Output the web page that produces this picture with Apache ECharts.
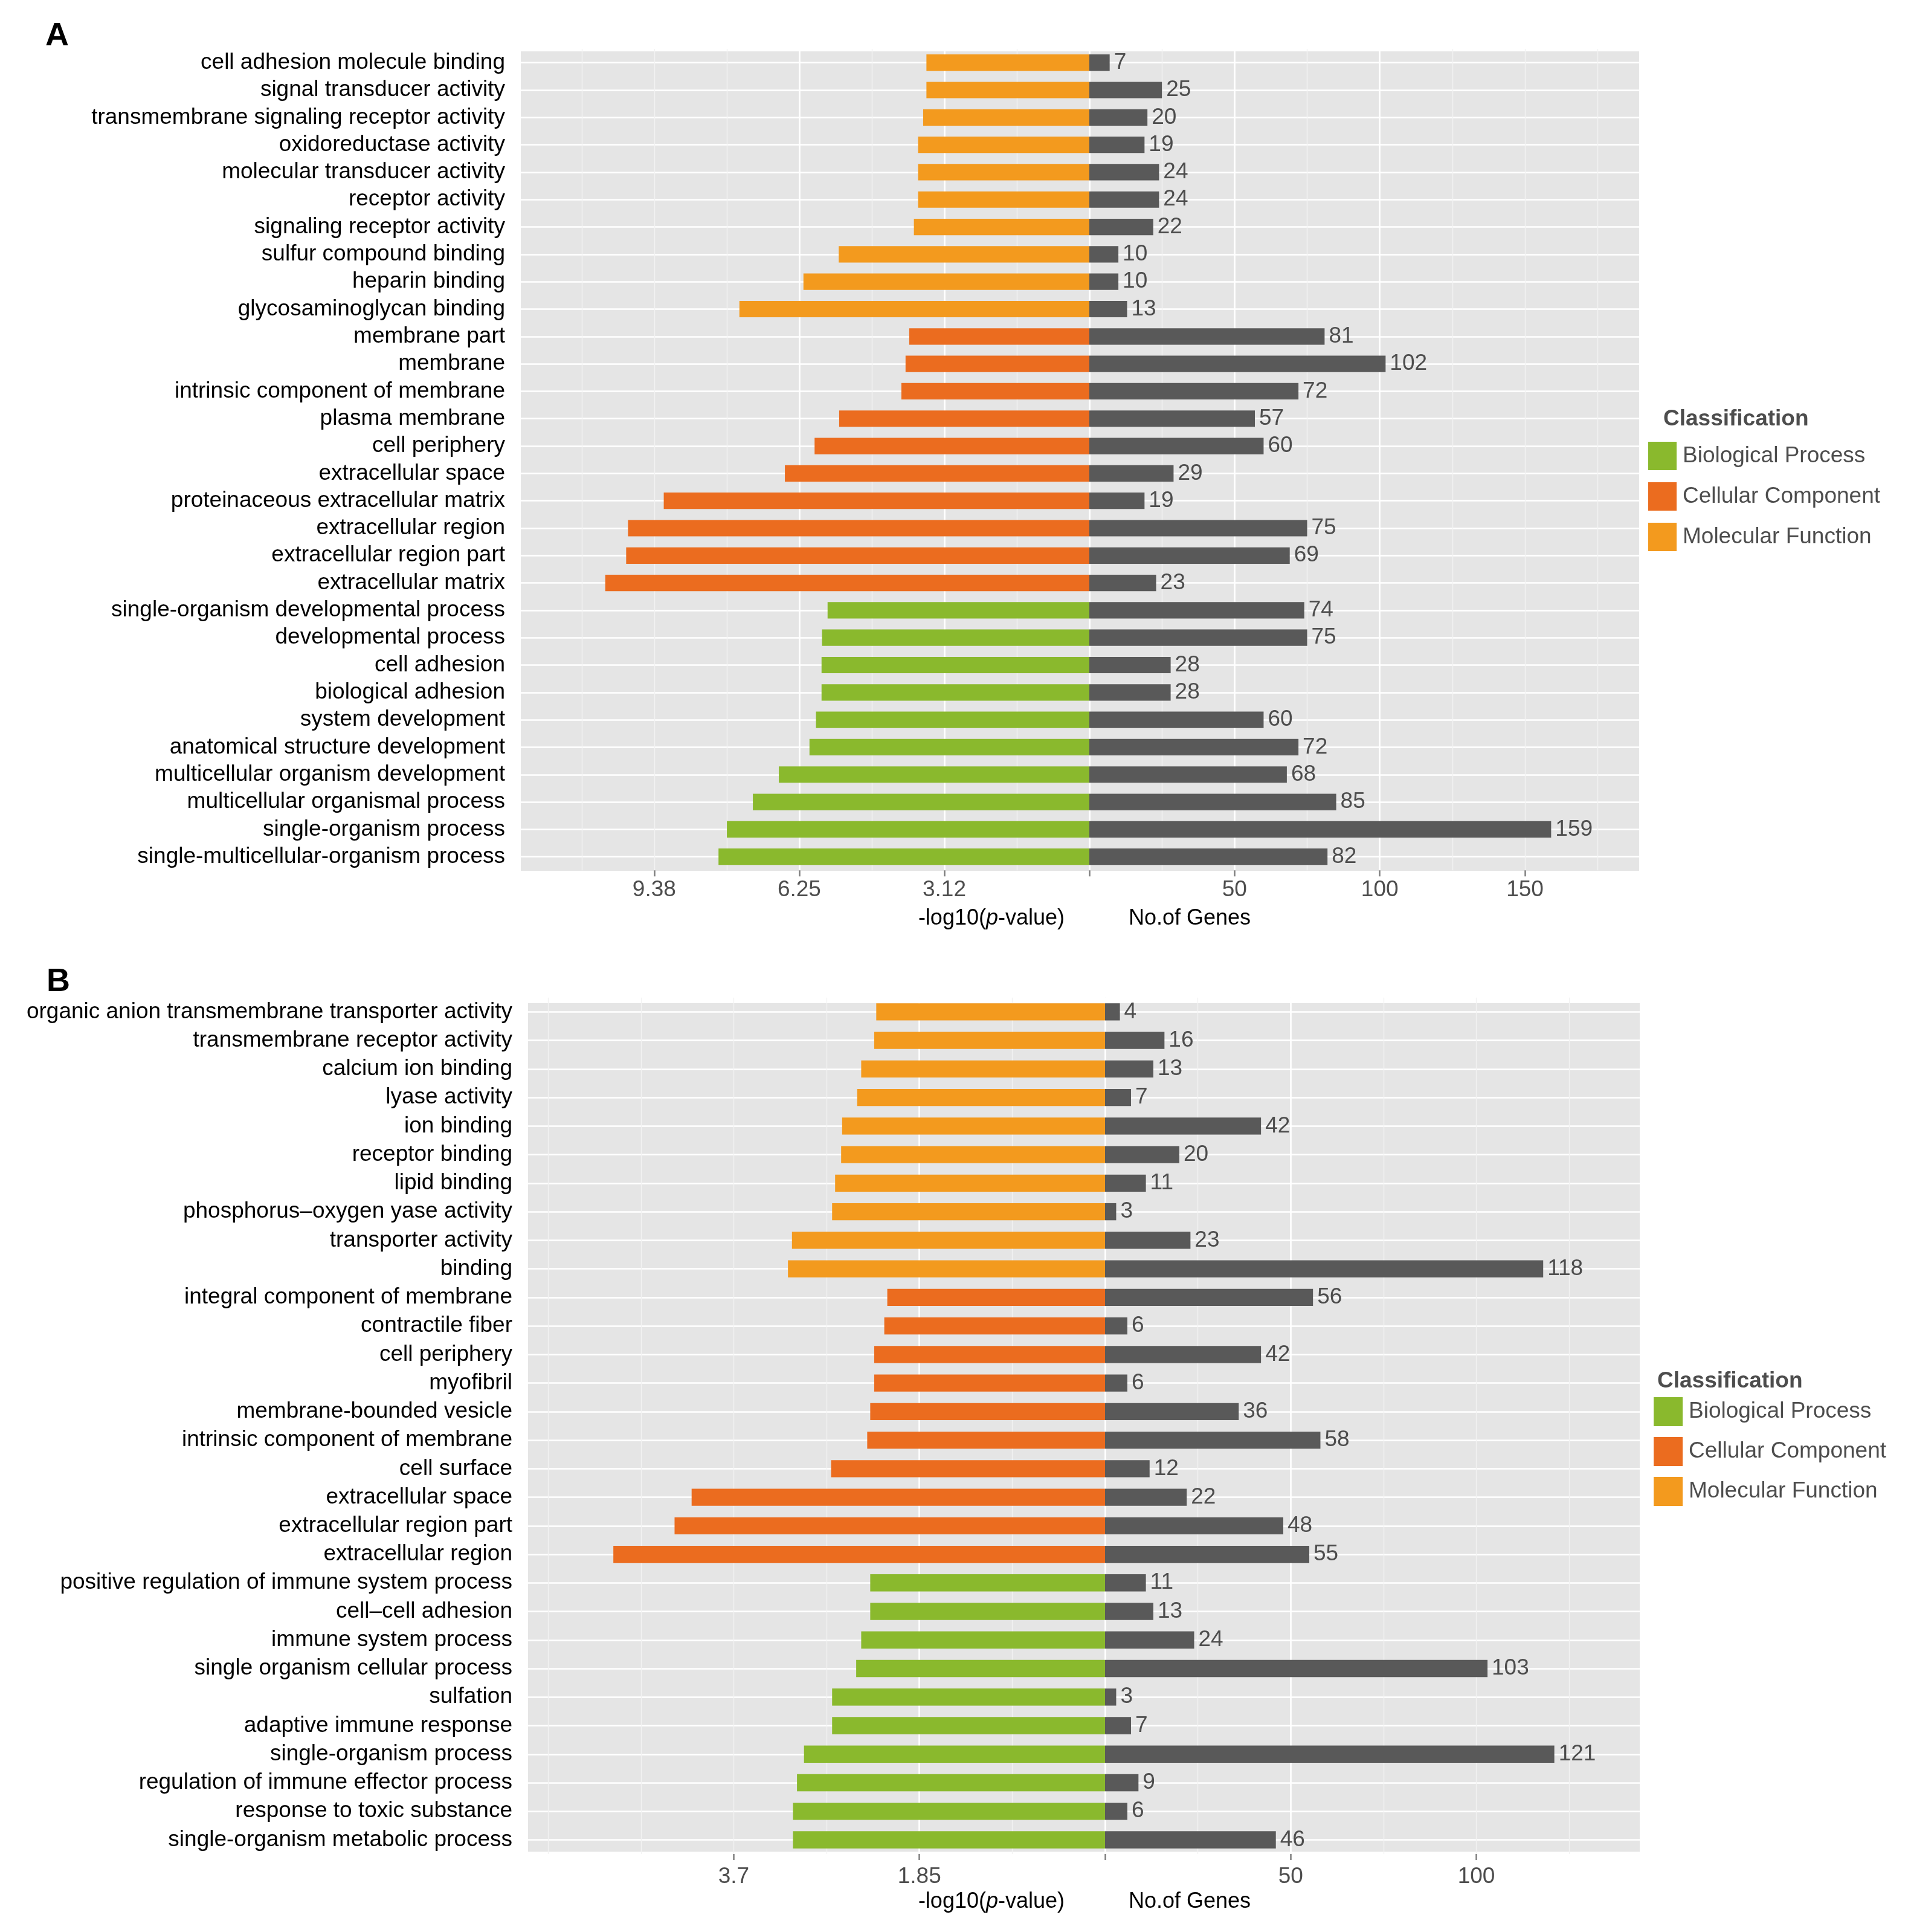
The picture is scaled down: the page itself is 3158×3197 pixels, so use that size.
<!DOCTYPE html>
<html>
<head>
<meta charset="utf-8">
<style>
  html, body { margin: 0; padding: 0; background: #fff; }
  #chart { width: 3158px; height: 3197px; }
</style>
</head>
<body>
<div id="chart"></div>
<script src="https://cdn.jsdelivr.net/npm/echarts@6/dist/echarts.min.js"></script>
<script>
// ---- panel A data (top to bottom) ----
var catsA = ['cell adhesion molecule binding', 'signal transducer activity', 'transmembrane signaling receptor activity',
  'oxidoreductase activity', 'molecular transducer activity', 'receptor activity', 'signaling receptor activity',
  'sulfur compound binding', 'heparin binding', 'glycosaminoglycan binding',
  'membrane part', 'membrane', 'intrinsic component of membrane', 'plasma membrane', 'cell periphery',
  'extracellular space', 'proteinaceous extracellular matrix', 'extracellular region', 'extracellular region part',
  'extracellular matrix',
  'single-organism developmental process', 'developmental process', 'cell adhesion', 'biological adhesion',
  'system development', 'anatomical structure development', 'multicellular organism development',
  'multicellular organismal process', 'single-organism process', 'single-multicellular-organism process'];
var classA = ['MF', 'MF', 'MF', 'MF', 'MF', 'MF', 'MF', 'MF', 'MF', 'MF',
  'CC', 'CC', 'CC', 'CC', 'CC', 'CC', 'CC', 'CC', 'CC', 'CC',
  'BP', 'BP', 'BP', 'BP', 'BP', 'BP', 'BP', 'BP', 'BP', 'BP'];
var logpA = [3.51, 3.51, 3.58, 3.69, 3.69, 3.69, 3.78, 5.40, 6.16, 7.54,
  3.88, 3.96, 4.05, 5.39, 5.92, 6.56, 9.17, 9.94, 9.98, 10.43,
  5.64, 5.76, 5.77, 5.77, 5.89, 6.03, 6.69, 7.25, 7.81, 7.99];
var genesA = [7, 25, 20, 19, 24, 24, 22, 10, 10, 13,
  81, 102, 72, 57, 60, 29, 19, 75, 69, 23,
  74, 75, 28, 28, 60, 72, 68, 85, 159, 82];
var leftTicksA = [0, 3.125, 6.25, 9.375];
var leftTickTextA = ['', '3.12', '6.25', '9.38'];
var rightTicksA = [0, 50, 100, 150];
var rightTickTextA = ['', '50', '100', '150'];

// ---- panel B data (top to bottom) ----
var catsB = ['organic anion transmembrane transporter activity', 'transmembrane receptor activity', 'calcium ion binding',
  'lyase activity', 'ion binding', 'receptor binding', 'lipid binding', 'phosphorus\u2013oxygen yase activity',
  'transporter activity', 'binding',
  'integral component of membrane', 'contractile fiber', 'cell periphery', 'myofibril', 'membrane-bounded vesicle',
  'intrinsic component of membrane', 'cell surface', 'extracellular space', 'extracellular region part',
  'extracellular region',
  'positive regulation of immune system process', 'cell\u2013cell adhesion', 'immune system process',
  'single organism cellular process', 'sulfation', 'adaptive immune response', 'single-organism process',
  'regulation of immune effector process', 'response to toxic substance', 'single-organism metabolic process'];
var classB = classA.slice();
var logpB = [2.28, 2.30, 2.43, 2.47, 2.62, 2.63, 2.69, 2.72, 3.12, 3.16,
  2.17, 2.20, 2.30, 2.30, 2.34, 2.37, 2.73, 4.12, 4.29, 4.90,
  2.34, 2.34, 2.43, 2.48, 2.72, 2.72, 3.00, 3.07, 3.11, 3.11];
var genesB = [4, 16, 13, 7, 42, 20, 11, 3, 23, 118,
  56, 6, 42, 6, 36, 58, 12, 22, 48, 55,
  11, 13, 24, 103, 3, 7, 121, 9, 6, 46];
var leftTicksB = [0, 1.85, 3.7];
var leftTickTextB = ['', '1.85', '3.7'];
var rightTicksB = [0, 50, 100];
var rightTickTextB = ['', '50', '100'];

var classOrder = ['BP', 'CC', 'MF'];
var classNames = { BP: 'Biological Process', CC: 'Cellular Component', MF: 'Molecular Function' };
var classColors = { BP: '#8AB92D', CC: '#EB6C1F', MF: '#F39A1E' };

var FONT = 'Liberation Sans, Arial, Helvetica, sans-serif';
var chart = echarts.init(document.getElementById('chart'), null, { renderer: 'canvas' });

var option = {
  animation: false,
  backgroundColor: '#ffffff',
  textStyle: { fontFamily: FONT },
  grid: [], xAxis: [], yAxis: [], series: [], legend: [], graphic: []
};

function tickText(ticks, texts) {
  return function (v) {
    for (var i = 0; i < ticks.length; i++) {
      if (Math.abs(ticks[i] - v) < 1e-6) return texts[i];
    }
    return '';
  };
}

function addPanel(p) {
  var gi = option.grid.length;
  var xi = option.xAxis.length;
  var yi = option.yAxis.length;
  var panelW = p.right - p.left;
  var panelH = p.bottom - p.top;
  var band = (p.lastRow - p.firstRow) / (p.cats.length - 1);

  // grey panel, row gridlines, left bars, right bars
  option.grid.push(
    { left: p.left, top: p.top, width: panelW, height: panelH, show: true, backgroundColor: '#E5E5E5', borderWidth: 0, outerBoundsMode: 'none' },
    { left: p.left, top: p.firstRow, width: panelW, height: p.lastRow - p.firstRow, show: false, outerBoundsMode: 'none' },
    { left: p.left, top: p.firstRow - band / 2, width: p.zero - p.left, height: band * p.cats.length, show: false, outerBoundsMode: 'none' },
    { left: p.zero, top: p.firstRow - band / 2, width: p.right - p.zero, height: band * p.cats.length, show: false, outerBoundsMode: 'none' }
  );

  option.xAxis.push(
    { gridIndex: gi, type: 'value', show: false },
    { gridIndex: gi + 1, type: 'value', show: false },
    // minor lines, left
    { gridIndex: gi + 2, type: 'value', inverse: true, position: 'top', min: 0, max: p.leftMax, interval: p.leftMinor,
      axisLine: { show: false }, axisTick: { show: false }, axisLabel: { show: false },
      splitLine: { show: true, showMaxLine: false, lineStyle: { color: '#F2F2F2', width: 1.4 } }, z: 1 },
    // major, left
    { gridIndex: gi + 2, type: 'value', inverse: true, position: 'bottom', min: 0, max: p.leftMax, interval: p.leftTicks[1],
      axisLine: { show: false },
      axisTick: { show: true, length: 10, customValues: p.leftTicks, lineStyle: { color: '#7F7F7F', width: 2.5 } },
      axisLabel: { customValues: p.leftTicks, formatter: tickText(p.leftTicks, p.leftTickText), fontSize: 37, color: '#4D4D4D', margin: p.labelMargin },
      splitLine: { show: true, showMaxLine: false, lineStyle: { color: '#FFFFFF', width: 2.6 } }, z: 1 },
    // minor lines, right
    { gridIndex: gi + 3, type: 'value', position: 'top', min: 0, max: p.rightMax, interval: 25,
      axisLine: { show: false }, axisTick: { show: false }, axisLabel: { show: false },
      splitLine: { show: true, showMaxLine: false, lineStyle: { color: '#F2F2F2', width: 1.4 } }, z: 1 },
    // major, right
    { gridIndex: gi + 3, type: 'value', position: 'bottom', min: 0, max: p.rightMax, interval: 50,
      axisLine: { show: false },
      axisTick: { show: true, length: 10, customValues: p.rightTicks, lineStyle: { color: '#7F7F7F', width: 2.5 } },
      axisLabel: { customValues: p.rightTicks, formatter: tickText(p.rightTicks, p.rightTickText), fontSize: 37, color: '#4D4D4D', margin: p.labelMargin },
      splitLine: { show: true, showMaxLine: false, lineStyle: { color: '#FFFFFF', width: 2.6 } }, z: 1 }
  );

  option.yAxis.push(
    { gridIndex: gi, type: 'value', show: false },
    { gridIndex: gi + 1, type: 'value', min: 0, max: p.cats.length - 1, interval: 1,
      axisLine: { show: false }, axisTick: { show: false }, axisLabel: { show: false },
      splitLine: { show: true, lineStyle: { color: '#FFFFFF', width: 2.6 } }, z: 1 },
    { gridIndex: gi + 2, type: 'category', data: p.cats, inverse: true, position: 'left',
      axisLine: { show: false },
      axisTick: { show: true, alignWithLabel: true, length: 12, lineStyle: { color: '#7F7F7F', width: 3 } },
      axisLabel: { interval: 0, fontSize: 37, color: '#000000', margin: 26 },
      splitLine: { show: false } },
    { gridIndex: gi + 3, type: 'category', data: p.cats, inverse: true, show: false }
  );

  classOrder.forEach(function (c) {
    option.series.push({
      name: classNames[c], type: 'bar', xAxisIndex: xi + 3, yAxisIndex: yi + 2,
      barWidth: '60%', barGap: '-100%', z: 3,
      itemStyle: { color: classColors[c] },
      data: p.logp.map(function (v, i) { return p.cls[i] === c ? v : '-'; })
    });
  });

  option.series.push({
    name: 'No.of Genes', type: 'bar', xAxisIndex: xi + 5, yAxisIndex: yi + 3,
    barWidth: '60%', z: 3,
    itemStyle: { color: '#595959' },
    label: { show: true, position: 'right', distance: 7, fontSize: 37, color: '#4D4D4D' },
    data: p.genes
  });

  option.legend.push({
    data: classOrder.map(function (c) { return classNames[c]; }),
    orient: 'vertical', left: p.legendLeft, top: p.legendTop,
    itemWidth: p.keySize, itemHeight: p.keySize, itemGap: p.keyGap, padding: 0,
    icon: 'rect', selectedMode: false,
    textStyle: { fontSize: 37, color: '#4D4D4D', padding: [0, 0, 0, 5] }
  });

  option.graphic.push(
    { type: 'text', x: p.letterX, y: p.letterY,
      style: { text: p.letter, fontSize: 54, fontWeight: 'bold', fontFamily: FONT, fill: '#000', verticalAlign: 'middle' } },
    { type: 'text', x: p.legendTitleX, y: p.legendTitleY,
      style: { text: 'Classification', fontSize: 37, fontWeight: 'bold', fontFamily: FONT, fill: '#4D4D4D', verticalAlign: 'middle' } },
    { type: 'text', x: 1762, y: p.titleY,
      style: { text: '-log10({i|p}-value)', fontSize: 36, fontFamily: FONT, fill: '#000', align: 'right', verticalAlign: 'middle',
        rich: { i: { fontStyle: 'italic', fontSize: 36, fontFamily: FONT, fill: '#000' } } } },
    { type: 'text', x: 1868, y: p.titleY,
      style: { text: 'No.of Genes', fontSize: 36, fontFamily: FONT, fill: '#000', verticalAlign: 'middle' } }
  );
}

addPanel({
  cats: catsA, cls: classA, logp: logpA, genes: genesA,
  leftTicks: leftTicksA, leftTickText: leftTickTextA, leftMinor: 1.5625,
  rightTicks: rightTicksA, rightTickText: rightTickTextA,
  left: 862, right: 2713, top: 85, bottom: 1441, zero: 1803,
  firstRow: 103.7, lastRow: 1417.7, leftMax: 12.25, rightMax: 189.3, labelMargin: 14,
  legendLeft: 2728, legendTop: 731, keySize: 47, keyGap: 20,
  legendTitleX: 2753, legendTitleY: 694, letter: 'A', letterX: 75, letterY: 60, titleY: 1520
});

addPanel({
  cats: catsB, cls: classB, logp: logpB, genes: genesB,
  leftTicks: leftTicksB, leftTickText: leftTickTextB, leftMinor: 0.925,
  rightTicks: rightTicksB, rightTickText: rightTickTextB,
  left: 874, right: 2714, top: 1660, bottom: 3064, zero: 1829,
  firstRow: 1674.4, lastRow: 3044.5, leftMax: 5.75, rightMax: 144, labelMargin: 19,
  legendLeft: 2737, legendTop: 2312, keySize: 48, keyGap: 18,
  legendTitleX: 2743, legendTitleY: 2286, letter: 'B', letterX: 77, letterY: 1625, titleY: 3147
});

chart.setOption(option);
</script>
</body>
</html>
